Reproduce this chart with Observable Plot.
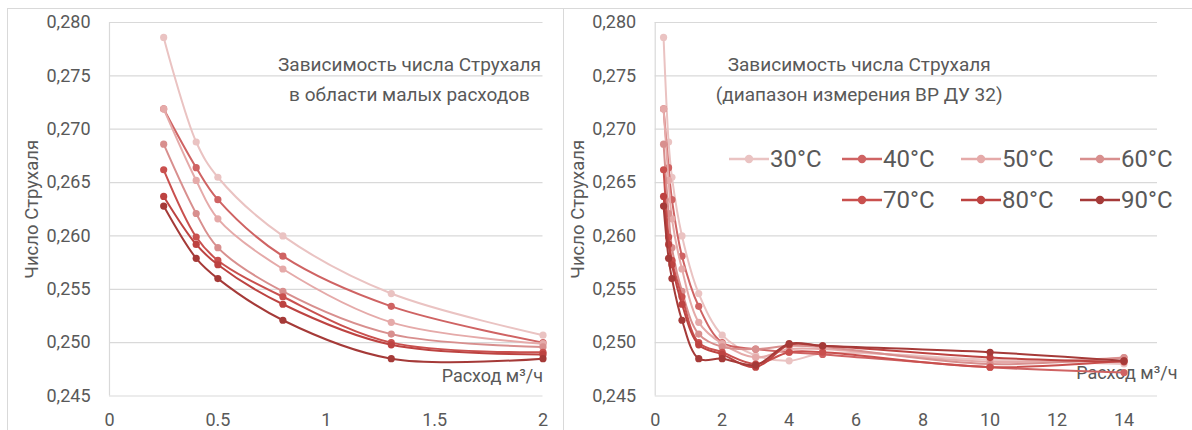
<!DOCTYPE html>
<html><head><meta charset="utf-8">
<script src="https://cdn.jsdelivr.net/npm/d3@7"></script>
<script src="https://cdn.jsdelivr.net/npm/@observablehq/plot@0.6"></script>
<style>
html,body{margin:0;padding:0;background:#fff;}
body{width:1192px;height:430px;overflow:hidden;position:relative;font-family:Roboto,"Open Sans",sans-serif;}
.panel{position:absolute;top:0;height:430px;}
.line{position:absolute;background:#d9d9d9;}
.leg{position:absolute;display:flex;align-items:center;height:30px;color:#595959;font-size:24px;font-family:Roboto,sans-serif;white-space:nowrap;}
.leg svg{display:block;margin-right:1px;}
</style>
</head><body>
<div id="left" class="panel" style="left:0;width:563px"></div>
<div id="right" class="panel" style="left:563px;width:629px"></div>
<div class="line" style="left:7px;top:8px;width:1185px;height:1px"></div>
<div class="line" style="left:7px;top:8px;width:1px;height:422px"></div>
<div class="line" style="left:563px;top:8px;width:1px;height:422px"></div>
<div id="legend"></div>
<script>
// ---- data ----
const flows = [0.25, 0.4, 0.5, 0.8, 1.3, 2, 3, 4, 5, 10, 14];
const temps = ["30°C", "40°C", "50°C", "60°C", "70°C", "80°C", "90°C"];
const s30 = [0.2786, 0.2688, 0.2655, 0.2600, 0.2546, 0.2507, 0.2488, 0.2483, 0.2490, 0.2484, 0.2480];
const s40 = [0.2719, 0.2664, 0.2634, 0.2581, 0.2534, 0.2500, 0.2494, 0.2491, 0.2489, 0.2477, 0.2472];
const s50 = [0.2719, 0.2652, 0.2616, 0.2569, 0.2519, 0.2499, 0.2486, 0.2494, 0.2494, 0.2482, 0.2486];
const s60 = [0.2686, 0.2621, 0.2589, 0.2548, 0.2508, 0.2496, 0.2494, 0.2497, 0.2496, 0.2480, 0.2486];
const s70 = [0.2662, 0.2599, 0.2577, 0.2543, 0.2500, 0.2491, 0.2480, 0.2491, 0.2491, 0.2477, 0.2483];
const s80 = [0.2637, 0.2592, 0.2573, 0.2536, 0.2498, 0.2489, 0.2477, 0.2498, 0.2497, 0.2486, 0.2482];
const s90 = [0.2628, 0.2579, 0.2560, 0.2521, 0.2485, 0.2485, 0.2479, 0.2499, 0.2497, 0.2491, 0.2483];
const seriesValues = [s30, s40, s50, s60, s70, s80, s90];
const colors = ["#eac3c2", "#cf6363", "#e5aaa9", "#d88f8e", "#c9504e", "#bd4341", "#a53a38"];

const yTicks = [0.245, 0.250, 0.255, 0.260, 0.265, 0.270, 0.275, 0.280];
const xTicksLeft = [0, 0.5, 1, 1.5, 2];
const xTicksRight = [0, 2, 4, 6, 8, 10, 12, 14];
const titleLeft = "Зависимость числа Струхаля\nв области малых расходов";
const titleRight = "Зависимость числа Струхаля\n(диапазон измерения ВР ДУ 32)";
const yTitle = "Число Струхаля";
const xTitle = "Расход м³/ч";

const rows = temps.flatMap((t, i) => flows.map((f, j) => ({temp: t, flow: f, st: seriesValues[i][j]})));

const grey = "#595959";
const yFmt = d => d.toFixed(3).replace(".", ",");

function panel({width, mLeft, mRight, xDomain, xTicks, maxFlow, title, titleDx, titleDy, titleLH, xTitleDx, xTitleDy}) {
  const data = rows.filter(d => d.flow <= maxFlow);
  const seriesMarks = temps.flatMap(t => {
    const d = data.filter(r => r.temp === t);
    return [
      Plot.line(d, {x: "flow", y: "st", stroke: "temp", strokeWidth: 2, curve: "catmull-rom"}),
      Plot.dot(d, {x: "flow", y: "st", fill: "temp", r: 3.6, stroke: "none"})
    ];
  });
  return Plot.plot({
    width, height: 430,
    marginLeft: mLeft, marginRight: mRight, marginTop: 22, marginBottom: 34.5,
    style: {fontFamily: "Roboto, 'Open Sans', sans-serif", color: grey, background: "transparent", overflow: "visible"},
    x: {domain: xDomain, ticks: xTicks},
    y: {domain: [0.245, 0.280], ticks: yTicks},
    color: {domain: temps, range: colors},
    marks: [
      Plot.gridY(yTicks, {stroke: "#d9d9d9", strokeOpacity: 1, strokeWidth: 1.2}),
      Plot.ruleX([0], {stroke: "#d9d9d9", strokeWidth: 1.2}),
      Plot.axisY({ticks: yTicks, tickSize: 0, tickPadding: 19, tickFormat: yFmt, fontSize: 18, label: null}),
      Plot.axisX({ticks: xTicks, tickSize: 0, tickPadding: 17, tickFormat: d => String(d), fontSize: 18, label: null}),
      Plot.text([yTitle], {text: d => d, frameAnchor: "left", dx: -77, rotate: -90, textAnchor: "middle", fontSize: 18.5, fill: grey}),
      Plot.text([xTitle], {text: d => d, frameAnchor: "bottom-right", dx: xTitleDx, dy: xTitleDy, textAnchor: "end", fontSize: 18, fill: grey}),
      Plot.text([title], {text: d => d, frameAnchor: "top-left", dx: titleDx, dy: titleDy, textAnchor: "middle", lineAnchor: "middle", lineHeight: titleLH, fontSize: 19, fill: grey}),
      ...seriesMarks
    ]
  });
}

document.getElementById("left").append(panel({
  width: 563, mLeft: 109, mRight: 20.5, xDomain: [0, 2], xTicks: xTicksLeft, maxFlow: 2,
  title: titleLeft, titleDx: 300, titleDy: 54, titleLH: 1.55, xTitleDx: 0, xTitleDy: -14
}));
document.getElementById("right").append(panel({
  width: 629, mLeft: 91.7, mRight: 35, xDomain: [0, 15], xTicks: xTicksRight, maxFlow: 14,
  title: titleRight, titleDx: 204, titleDy: 54, titleLH: 1.55, xTitleDx: 20, xTitleDy: -17
}));

// legend
const legPos = [[729, 144], [842, 144], [961, 144], [1080, 144], [842, 185], [961, 185], [1080, 185]];
const legend = document.getElementById("legend");
temps.forEach((t, i) => {
  const div = document.createElement("div");
  div.className = "leg";
  div.style.left = legPos[i][0] + "px";
  div.style.top = legPos[i][1] + "px";
  div.innerHTML = `<svg width="40" height="20"><line x1="0" x2="40" y1="10" y2="10" stroke="${colors[i]}" stroke-width="2.5"/><circle cx="20" cy="10" r="4.2" fill="${colors[i]}"/></svg><span>${t}</span>`;
  legend.append(div);
});
</script>
</body></html>
